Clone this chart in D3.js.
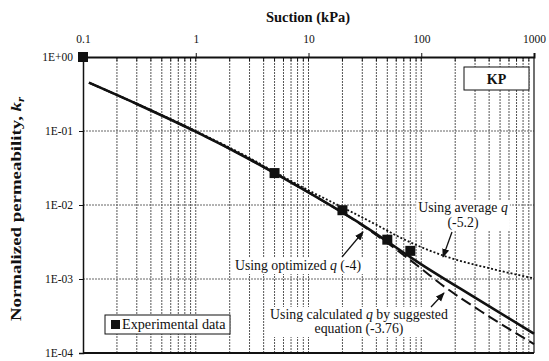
<!DOCTYPE html>
<html>
<head>
<meta charset="utf-8">
<script src="https://cdn.jsdelivr.net/npm/d3@7"></script>
<style>
  body { margin: 0; background: #fff; }
  svg { display: block; }
  text { font-family: "Liberation Serif", "Times New Roman", serif; fill: #111; }
</style>
</head>
<body>
<svg id="chart" width="549" height="361"></svg>
<script>
// Axis ticks
const suctionTicks = [0.1, 1, 10, 100, 1000];
const suctionTickLabels = ["0.1", "1", "10", "100", "1000"];
const krTicks = [1, 0.1, 0.01, 0.001, 0.0001];
const krTickLabels = ["1E+00", "1E-01", "1E-02", "1E-03", "1E-04"];

// Measured relative permeability
const expSuction = [0.1, 5, 20, 50, 80];
const expKr = [1, 0.027, 0.0085, 0.0034, 0.0024];

// Model with optimized q (-4)
const optSuction = [0.113, 0.3, 1, 3, 10, 30, 100, 300, 1000];
const optKr = [0.45, 0.232, 0.098, 0.0415, 0.0148, 0.0054, 0.00158, 0.00056, 0.000182];

// Model with average q (-5.2)
const avgSuction = [0.113, 0.3, 1, 3, 5, 10, 20, 40, 66, 160, 400, 1000];
const avgKr = [0.45, 0.234, 0.1, 0.0432, 0.028, 0.0158, 0.0093, 0.0054, 0.0036, 0.00205, 0.0014, 0.00102];

// Model with q from the suggested equation (-3.76)
const calcSuction = [0.113, 0.3, 1, 3, 10, 30, 70, 100, 160, 338, 1000];
const calcKr = [0.45, 0.232, 0.098, 0.0415, 0.0148, 0.0053, 0.0021, 0.00138, 0.00079, 0.000367, 0.000132];

const svg = d3.select("#chart");
const pL = 83, pR = 534, pT = 57, pB = 353;

const x = d3.scaleLog().domain([0.1, 1000]).range([pL, pR]);
const y = d3.scaleLog().domain([0.0001, 1]).range([pB, pT]);

// Gridlines: every 1..9 step in each decade, vertical; decades only, horizontal
const minorX = [];
[0.1, 1, 10, 100].forEach(d => { for (let m = 1; m <= 9; m++) minorX.push(d * m); });
const gridX = minorX.filter(v => v > 0.1 && v < 1000);

svg.append("g").selectAll("line").data(gridX).join("line")
  .attr("x1", d => x(d)).attr("x2", d => x(d))
  .attr("y1", pT).attr("y2", pB)
  .attr("stroke", "#555").attr("stroke-width", 1).attr("stroke-dasharray", "2,1");

svg.append("g").selectAll("line").data(krTicks.filter(v => v < 1 && v > 0.0001)).join("line")
  .attr("x1", pL).attr("x2", pR)
  .attr("y1", d => y(d)).attr("y2", d => y(d))
  .attr("stroke", "#666").attr("stroke-width", 1).attr("stroke-dasharray", "2,1");

// Top axis (suction)
const xAxis = d3.axisTop(x).tickValues(suctionTicks)
  .tickFormat((d, i) => suctionTickLabels[i]).tickSize(4).tickPadding(10);
const gx = svg.append("g").attr("transform", `translate(0,${pT})`).call(xAxis);
gx.select(".domain").attr("stroke", "#111").attr("stroke-width", 2);
gx.selectAll(".tick line").attr("stroke", "#111");
gx.selectAll("text").attr("font-size", 11.5).attr("fill", "#111");

// Minor inside ticks along the top edge
svg.append("g").selectAll("line").data(gridX).join("line")
  .attr("x1", d => x(d)).attr("x2", d => x(d))
  .attr("y1", pT).attr("y2", pT + 4)
  .attr("stroke", "#111").attr("stroke-width", 1);

// Left axis (relative permeability)
const yAxis = d3.axisLeft(y).tickValues(krTicks)
  .tickFormat((d, i) => krTickLabels[i]).tickSize(4).tickPadding(6);
const gy = svg.append("g").attr("transform", `translate(${pL},0)`).call(yAxis);
gy.select(".domain").attr("stroke", "#111").attr("stroke-width", 1.5);
gy.selectAll(".tick line").attr("stroke", "#111");
gy.selectAll("text").attr("font-size", 11.5).attr("fill", "#111");

// Bottom and right frame
svg.append("line").attr("x1", pL).attr("x2", pR).attr("y1", pB).attr("y2", pB)
  .attr("stroke", "#111").attr("stroke-width", 2);
svg.append("line").attr("x1", pR).attr("x2", pR).attr("y1", pT).attr("y2", pB)
  .attr("stroke", "#111").attr("stroke-width", 1.2);

// Axis titles
svg.append("text").attr("x", 308).attr("y", 22).attr("text-anchor", "middle")
  .attr("font-size", 14.5).attr("font-weight", "bold").text("Suction (kPa)");

const yt = svg.append("text").attr("transform", "translate(21,209) rotate(-90) scale(1.3,1)")
  .attr("text-anchor", "middle").attr("font-size", 14.5).attr("font-weight", "bold");
yt.append("tspan").text("Normalized permeability, ");
yt.append("tspan").attr("font-style", "italic").text("k");
yt.append("tspan").attr("font-style", "italic").attr("font-size", 10).attr("dy", 3).text("r");

// Model curves
const zip = (xs, ys) => xs.map((v, i) => ({ s: v, k: ys[i] }));
const line = d3.line().x(d => x(d.s)).y(d => y(d.k)).curve(d3.curveMonotoneX);

svg.append("path").datum(zip(avgSuction, avgKr)).attr("d", line)
  .attr("fill", "none").attr("stroke", "#111").attr("stroke-width", 1.8)
  .attr("stroke-dasharray", "2,2");
svg.append("path").datum(zip(calcSuction, calcKr)).attr("d", line)
  .attr("fill", "none").attr("stroke", "#111").attr("stroke-width", 2)
  .attr("stroke-dasharray", "11,5");
svg.append("path").datum(zip(optSuction, optKr)).attr("d", line)
  .attr("fill", "none").attr("stroke", "#111").attr("stroke-width", 2.6);

// Experimental points
const sq = 10;
svg.append("g").selectAll("rect").data(zip(expSuction, expKr)).join("rect")
  .attr("x", d => x(d.s) - sq / 2).attr("y", d => y(d.k) - sq / 2)
  .attr("width", sq).attr("height", sq).attr("fill", "#111");

// Legend
svg.append("rect").attr("x", 105).attr("y", 315).attr("width", 125).attr("height", 19)
  .attr("fill", "#fff").attr("stroke", "#111").attr("stroke-width", 1);
svg.append("rect").attr("x", 111).attr("y", 320).attr("width", 9).attr("height", 9).attr("fill", "#111");
svg.append("text").attr("x", 122).attr("y", 329).attr("font-size", 14.2).text("Experimental data");

// Soil label
svg.append("rect").attr("x", 464).attr("y", 67).attr("width", 65).attr("height", 23)
  .attr("fill", "#fff").attr("stroke", "#111").attr("stroke-width", 1);
svg.append("text").attr("x", 496.5).attr("y", 83.5).attr("text-anchor", "middle")
  .attr("font-size", 14).attr("font-weight", "bold").text("KP");

// Annotations, each on a white text box
function annot(lines, xc, y0, dy) {
  const g = svg.append("g");
  const bg = g.append("rect").attr("fill", "#fff");
  lines.forEach((parts, i) => {
    const t = g.append("text").attr("x", xc).attr("y", y0 + i * dy)
      .attr("text-anchor", "middle").attr("font-size", 13.8);
    parts.forEach(p => t.append("tspan").attr("font-style", p.i ? "italic" : null).text(p.t));
  });
  const b = g.node().getBBox();
  bg.attr("x", b.x - 2).attr("y", b.y).attr("width", b.width + 4).attr("height", b.height);
}
annot([[{ t: "Using average " }, { t: "q", i: 1 }], [{ t: "(-5.2)" }]], 463, 212, 15);
annot([[{ t: "Using optimized " }, { t: "q", i: 1 }, { t: " (-4)" }]], 298, 270, 14);
annot([[{ t: "Using calculated " }, { t: "q", i: 1 }, { t: " by suggested" }], [{ t: "equation (-3.76)" }]], 359, 319, 14);

// Arrows
svg.append("defs").append("marker").attr("id", "ah").attr("viewBox", "0 0 10 10")
  .attr("refX", 9).attr("refY", 5).attr("markerWidth", 9).attr("markerHeight", 9)
  .attr("markerUnits", "userSpaceOnUse").attr("orient", "auto")
  .append("path").attr("d", "M0,1 L10,5 L0,9 Z").attr("fill", "#111");
const arrows = [[452, 232, 443, 257], [342, 257, 363, 232], [431, 307, 444, 293]];
svg.append("g").selectAll("line").data(arrows).join("line")
  .attr("x1", d => d[0]).attr("y1", d => d[1]).attr("x2", d => d[2]).attr("y2", d => d[3])
  .attr("stroke", "#111").attr("stroke-width", 1.3).attr("marker-end", "url(#ah)");
</script>
</body>
</html>
